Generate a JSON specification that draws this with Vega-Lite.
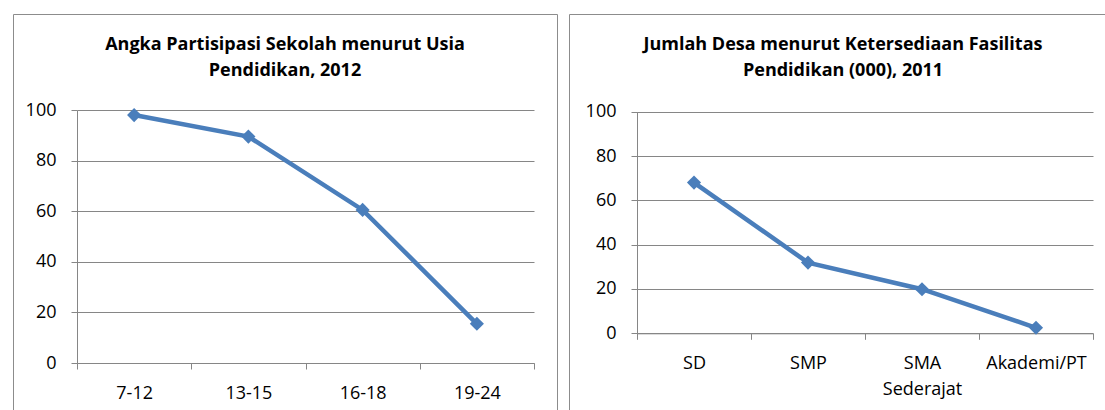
{
  "$schema": "https://vega.github.io/schema/vega-lite/v6.json",
  "padding": {"left": 12, "top": 13, "right": 0, "bottom": 0},
  "datasets": {
    "aps": [
      {"usia": "7-12", "aps": 98.0},
      {"usia": "13-15", "aps": 89.5},
      {"usia": "16-18", "aps": 60.5},
      {"usia": "19-24", "aps": 15.5}
    ],
    "desa": [
      {"fasilitas": "SD", "desa": 68.0},
      {"fasilitas": "SMP", "desa": 31.9},
      {"fasilitas": "SMA Sederajat", "desa": 19.9},
      {"fasilitas": "Akademi/PT", "desa": 2.5}
    ]
  },
  "spacing": 10,
  "hconcat": [
    {
      "width": 544,
      "height": 396,
      "data": {"name": "aps"},
      "title": {
        "text": ["Angka Partisipasi Sekolah menurut Usia", "Pendidikan, 2012"],
        "offset": -66
      },
      "encoding": {
        "x": {
          "field": "usia",
          "type": "ordinal",
          "sort": null,
          "bandPosition": 0.5,
          "scale": {"type": "band", "range": [64, 521], "paddingInner": 0, "paddingOuter": 0},
          "axis": {"offset": -47}
        },
        "y": {
          "field": "aps",
          "type": "quantitative",
          "scale": {"domain": [0, 100], "range": [349, 96], "nice": false},
          "axis": {"offset": -64, "values": [0, 20, 40, 60, 80, 100]}
        }
      },
      "layer": [
        {"mark": {"type": "line", "color": "#4A7EBB", "strokeWidth": 4.5}},
        {"mark": {"type": "point", "shape": "diamond", "filled": true, "size": 200, "color": "#4A7EBB", "opacity": 1}}
      ]
    },
    {
      "width": 538,
      "height": 396,
      "data": {"name": "desa"},
      "title": {
        "text": ["Jumlah Desa menurut Ketersediaan Fasilitas", "Pendidikan (000), 2011"],
        "offset": -66,
        "dx": 5
      },
      "encoding": {
        "x": {
          "field": "fasilitas",
          "type": "ordinal",
          "sort": null,
          "bandPosition": 0.5,
          "scale": {"type": "band", "range": [68, 524], "paddingInner": 0, "paddingOuter": 0},
          "axis": {"offset": -76.7, "labelExpr": "split(datum.label, ' ')"}
        },
        "y": {
          "field": "desa",
          "type": "quantitative",
          "scale": {"domain": [0, 100], "range": [319.3, 97.7], "nice": false},
          "axis": {"offset": -68, "values": [0, 20, 40, 60, 80, 100]}
        }
      },
      "layer": [
        {"mark": {"type": "line", "color": "#4A7EBB", "strokeWidth": 4.5}},
        {"mark": {"type": "point", "shape": "diamond", "filled": true, "size": 200, "color": "#4A7EBB", "opacity": 1}}
      ]
    }
  ],
  "config": {
    "view": {"stroke": "#8C8C8C", "strokeWidth": 1},
    "font": "Open Sans",
    "title": {
      "font": "Open Sans",
      "fontSize": 18,
      "fontWeight": "bold",
      "color": "#000000",
      "anchor": "middle",
      "frame": "group",
      "lineHeight": 26
    },
    "axis": {
      "title": null,
      "labelFont": "Open Sans",
      "labelFontSize": 18,
      "labelColor": "#000000",
      "domainColor": "#868686",
      "tickColor": "#868686",
      "gridColor": "#868686",
      "tickSize": 6
    },
    "axisX": {
      "grid": false,
      "tickBand": "extent",
      "labelAngle": 0,
      "labelPadding": 15,
      "labelLineHeight": 26
    },
    "axisY": {
      "grid": true,
      "labelPadding": 15
    }
  }
}
